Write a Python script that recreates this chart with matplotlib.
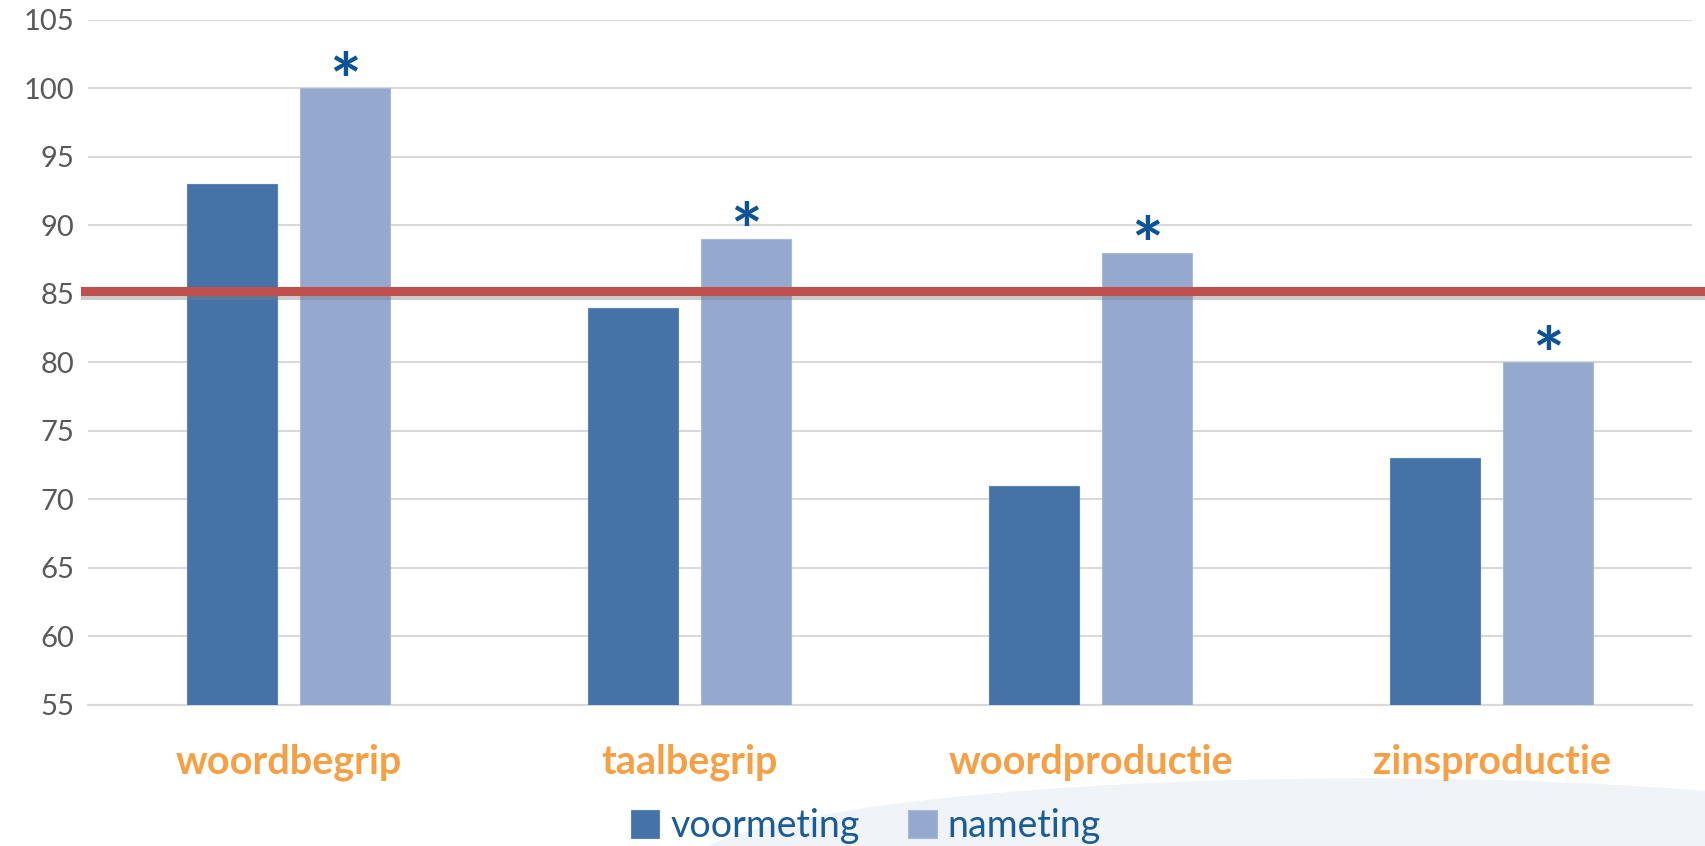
import matplotlib.pyplot as plt
import matplotlib.patheffects as pe
from matplotlib.patches import Ellipse
import numpy as np

categories = ['woordbegrip', 'taalbegrip', 'woordproductie', 'zinsproductie']
voormeting = [93, 84, 71, 73]
nameting = [100, 89, 88, 80]
norm_level = 85.2
yticks = [55, 60, 65, 70, 75, 80, 85, 90, 95, 100, 105]

plt.rcParams['font.family'] = ['Lato', 'DejaVu Sans']

fig = plt.figure(figsize=(17.05, 8.46), dpi=100)

# faint background swoosh at the bottom right
fig.patches.append(Ellipse((0.8, -0.03), 0.8, 0.22, transform=fig.transFigure,
                           facecolor='#F0F3F7', edgecolor='none', zorder=-5))

ax = fig.add_axes([0.0516, 0.1667, 0.9408, 0.8097], zorder=1)
ax.patch.set_alpha(0)

x = np.arange(len(categories))
w = 0.224
off = 0.1415
ax.bar(x - off, voormeting, w, color='#4572A7', edgecolor='#5a84b8', linewidth=0.8, zorder=3, label='voormeting')
ax.bar(x + off, nameting, w, color='#95A9CF', edgecolor='#a8b9d9', linewidth=0.8, zorder=3, label='nameting')

# significance stars
for xi, v in zip(x, nameting):
    ax.text(xi + off, v + 2.75, '*', ha='center', va='top', fontsize=54,
            fontweight='bold', color='#0B5394', zorder=5)

# norm line
ax.axhline(norm_level, xmin=-0.002, xmax=1.0075, color='#C0504D', lw=6.5, zorder=4, clip_on=False,
           path_effects=[pe.SimpleLineShadow(offset=(0, -3), shadow_color='gray', alpha=0.4), pe.Normal()])

ax.set_xlim(-0.5, len(categories) - 0.5)
ax.set_ylim(55, 105)
ax.set_yticks(yticks)
ax.yaxis.grid(True, color='#D9D9D9', lw=1.5, zorder=0)
ax.set_axisbelow(True)
for s in ['top', 'right', 'left']:
    ax.spines[s].set_visible(False)
ax.spines['bottom'].set_color('#D9D9D9')
ax.spines['bottom'].set_linewidth(1.5)
ax.tick_params(axis='y', length=0, labelsize=21, labelcolor='#595959', pad=10)
ax.tick_params(axis='x', length=0, pad=28)
ax.set_xticks(x)
ax.set_xticklabels(categories, fontsize=28.5, fontweight='bold', color='#F6A045')

leg = ax.legend(loc='center', bbox_to_anchor=(0.485, -0.177), ncol=2, frameon=False,
                fontsize=27, handlelength=0.75, handleheight=0.75, handletextpad=0.3, columnspacing=1.3)
for t in leg.get_texts():
    t.set_color('#1A5C96')

plt.savefig('out.png', dpi=100)
